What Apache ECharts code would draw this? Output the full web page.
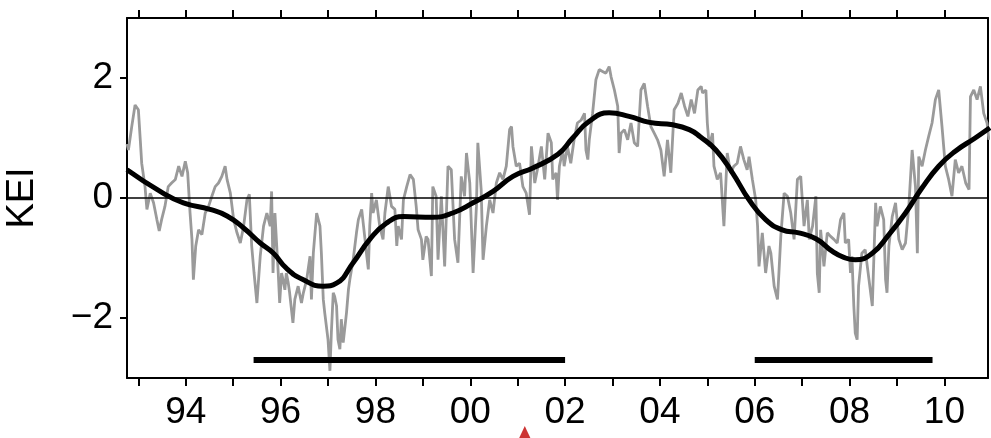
<!DOCTYPE html>
<html>
<head>
<meta charset="utf-8">
<title>KEI</title>
<script src="https://cdn.jsdelivr.net/npm/echarts@6/dist/echarts.min.js"></script>
<style>
    html, body { margin: 0; padding: 0; background: #fff; }
    #main { width: 991px; height: 438px; }
</style>
</head>
<body>
<div id="main"></div>
<script>
// KEI 原始序列 (灰线): 时间点
var keiYears = [
    1992.76, 1992.79, 1992.86, 1992.93, 1993.00, 1993.04, 1993.07, 1993.14, 1993.18, 1993.25,
    1993.32, 1993.39, 1993.44, 1993.49, 1993.56, 1993.63, 1993.70, 1993.78, 1993.85, 1993.92,
    1993.99, 1994.04, 1994.09, 1994.13, 1994.16, 1994.21, 1994.27, 1994.34, 1994.41, 1994.48,
    1994.55, 1994.62, 1994.69, 1994.76, 1994.83, 1994.87, 1994.94, 1995.01, 1995.08, 1995.15,
    1995.22, 1995.29, 1995.34, 1995.39, 1995.44, 1995.50, 1995.57, 1995.64, 1995.71, 1995.78,
    1995.81, 1995.84, 1995.88, 1995.91, 1995.95, 1995.98, 1996.02, 1996.05, 1996.09, 1996.12,
    1996.16, 1996.19, 1996.26, 1996.30, 1996.37, 1996.44, 1996.48, 1996.55, 1996.62, 1996.65,
    1996.69, 1996.76, 1996.83, 1996.86, 1996.90, 1996.93, 1997.00, 1997.04, 1997.07, 1997.11,
    1997.14, 1997.18, 1997.21, 1997.25, 1997.28, 1997.32, 1997.39, 1997.43, 1997.46, 1997.53,
    1997.60, 1997.64, 1997.71, 1997.78, 1997.81, 1997.85, 1997.88, 1997.92, 1997.95, 1998.02,
    1998.09, 1998.16, 1998.20, 1998.27, 1998.34, 1998.41, 1998.45, 1998.48, 1998.55, 1998.59,
    1998.66, 1998.73, 1998.80,
    1998.86, 1998.90, 1998.97, 1999.00, 1999.07, 1999.11, 1999.18, 1999.21, 1999.28, 1999.32,
    1999.39, 1999.46, 1999.53, 1999.60, 1999.67, 1999.74, 1999.81, 1999.88, 1999.92, 1999.99,
    2000.06, 2000.13, 2000.16, 2000.23, 2000.27, 2000.34, 2000.41, 2000.48, 2000.55, 2000.62,
    2000.69, 2000.76, 2000.83, 2000.87, 2000.90, 2000.97, 2001.04, 2001.11, 2001.18, 2001.25,
    2001.29, 2001.36, 2001.43, 2001.50, 2001.57, 2001.64, 2001.71, 2001.74, 2001.81,
    2001.84, 2001.88, 2001.95, 2001.98, 2002.05, 2002.12, 2002.19, 2002.26, 2002.34, 2002.41,
    2002.44, 2002.48, 2002.51, 2002.58, 2002.65, 2002.72, 2002.79, 2002.86, 2002.93, 2002.97,
    2003.04, 2003.11, 2003.14, 2003.18, 2003.25, 2003.32, 2003.39, 2003.46, 2003.53, 2003.60,
    2003.67, 2003.74, 2003.81, 2003.88, 2003.95, 2004.02, 2004.09, 2004.16, 2004.23, 2004.30,
    2004.38, 2004.45, 2004.52, 2004.59, 2004.66, 2004.73, 2004.80, 2004.87,
    2004.90, 2004.97, 2005.00, 2005.04, 2005.11, 2005.14, 2005.21, 2005.28, 2005.35, 2005.42,
    2005.49, 2005.56, 2005.63, 2005.70, 2005.77, 2005.84, 2005.88, 2005.95, 2006.02, 2006.06,
    2006.09, 2006.16, 2006.23, 2006.30, 2006.34, 2006.41, 2006.48, 2006.51, 2006.55, 2006.62,
    2006.69, 2006.76, 2006.83, 2006.90, 2006.97, 2007.04, 2007.11, 2007.15, 2007.22, 2007.29,
    2007.32, 2007.36, 2007.39, 2007.46, 2007.53, 2007.60, 2007.67, 2007.74, 2007.81, 2007.88,
    2007.91, 2007.98, 2008.02, 2008.05, 2008.09, 2008.12, 2008.16, 2008.19, 2008.26, 2008.33,
    2008.41, 2008.48, 2008.55, 2008.58, 2008.65, 2008.72, 2008.76, 2008.79, 2008.83, 2008.90,
    2008.97, 2009.04, 2009.11, 2009.18, 2009.25, 2009.32, 2009.39, 2009.43, 2009.46, 2009.53,
    2009.60, 2009.67, 2009.74, 2009.81, 2009.88, 2009.95, 2010.02, 2010.09, 2010.16, 2010.23,
    2010.30, 2010.37, 2010.45, 2010.52, 2010.55, 2010.62, 2010.69, 2010.76, 2010.83, 2010.90,
    2010.94
];
// KEI 原始序列 (灰线): 数值
var keiValues = [
    0.9, 0.80, 1.19, 1.55, 1.47, 0.97, 0.58, 0.19, -0.19, 0.08,
    -0.08, -0.36, -0.55, -0.36, -0.14, 0.19, 0.25, 0.31, 0.53, 0.36,
    0.61, 0.42, -0.25, -0.69, -1.36, -0.80, -0.53, -0.61, -0.25, -0.14,
    0.03, 0.19, 0.25, 0.36, 0.53, 0.31, 0.08, -0.36, -0.58, -0.75,
    -0.47, -0.03, 0.06, -0.80, -1.25, -1.75, -0.97, -0.47, -0.25, -0.47,
    0.11, -1.25, -0.25, -0.69, -1.25, -1.75, -1.25, -1.36, -1.53, -1.25,
    -1.41, -1.58, -2.08, -1.69, -1.47, -1.75, -1.58, -1.36, -0.97, -1.69,
    -0.92, -0.25, -0.47, -0.92, -1.69, -1.91, -2.36, -2.88, -2.25, -1.58,
    -1.64, -1.80, -2.36, -2.52, -2.02, -2.41, -1.91, -1.53, -1.36, -1.03,
    -0.58, -0.36, -0.19, -0.69, -0.92, -1.19, -0.47, 0.08, -0.25, -0.03,
    -0.47, -0.69, -0.25, 0.19, -0.14, -0.19, -0.80, -0.47, -0.69, -0.03,
    0.19, 0.39, 0.31,
    -0.14, -0.53, -0.69, -1.03, -0.64, -0.69, -1.30, 0.19, 0.03, -1.03,
    0.03, -1.14, 0.53, 0.47, -0.69, -1.08, 0.36, 0.03, 0.75, 0.25,
    -1.25, -0.14, 0.92, 0.14, -1.03, -0.47, -0.03, -0.25, 0.25, 0.42,
    0.31, 0.53, 1.14, 1.19, 0.86, 0.53, 0.58, 0.19, 0.08, -0.28,
    0.86, 0.25, 0.53, 0.86, 0.31, 1.08, 0.92, 0.31, 0.42,
    -0.03, 0.53, 0.80, 0.53, 0.86, 0.58, 0.97, 1.25, 1.30, 1.41,
    0.80, 0.64, 0.97, 1.41, 1.97, 2.14, 2.11, 2.08, 2.19, 2.02,
    1.80, 1.53, 0.75, 1.08, 1.14, 0.97, 1.25, 0.92, 0.86, 1.80,
    1.91, 1.53, 1.19, 1.08, 0.97, 0.80, 0.36, 0.97, 0.42, 1.47,
    1.58, 1.75, 1.53, 1.36, 1.64, 1.41, 1.80, 1.86,
    1.75, 1.80, 1.25, 0.86, 1.08, 0.53, 0.31, 0.42, -0.47, 0.75,
    0.42, 0.53, 0.58, 0.86, 0.64, 0.47, 0.69, 0.31, -0.03, -0.47,
    -1.14, -0.58, -1.25, -0.80, -0.92, -1.47, -1.69, -1.25, -0.64, 0.08,
    0.03, -0.25, -0.69, 0.31, 0.36, -0.47, -0.03, -0.69, -0.47, 0.03,
    -1.25, -1.58, -0.53, -1.14, -0.58, -0.64, -0.69, -0.75, -0.36, -0.25,
    -0.75, -0.69, -1.25, -0.97, -1.80, -2.25, -2.36, -1.47, -0.92, -0.86,
    -1.36, -1.80, -0.08, -0.47, -0.14, -0.36, -1.36, -1.58, -0.80, -0.31,
    -0.08, -0.69, -0.86, -0.75, -0.14, 0.80, 0.19, -0.92, 0.69, 0.53,
    0.80, 1.03, 1.25, 1.64, 1.80, 1.19, 0.53, 0.31, 0.03, 0.64,
    0.42, 0.53, 0.25, 0.14, 1.69, 1.80, 1.64, 1.86, 1.41, 1.25,
    0.97
];
// 平滑趋势线 (黑线)
var trendYears = [
    1992.76, 1993.46, 1993.95, 1994.51, 1994.87, 1995.22, 1995.57, 1995.85, 1996.12, 1996.47,
    1996.9, 1997.18, 1997.53, 1997.88, 1998.23, 1998.59, 1999.21, 1999.63, 2000.06, 2000.48,
    2000.9, 2001.32, 2001.85, 2002.16, 2002.51, 2002.93, 2003.35, 2003.78, 2004.27, 2004.62,
    2004.85, 2005.18, 2005.53, 2005.88, 2006.23, 2006.58, 2006.93, 2007.29, 2007.64, 2007.88,
    2008.12, 2008.48, 2008.83, 2009.18, 2009.53, 2009.88, 2010.23, 2010.65, 2010.96
];
var trendValues = [
    0.47, 0.11, -0.08, -0.19, -0.3, -0.5, -0.75, -0.92, -1.17, -1.36,
    -1.47, -1.42, -1.08, -0.69, -0.42, -0.31, -0.32, -0.25, -0.08, 0.11,
    0.36, 0.5, 0.73, 1.0, 1.28, 1.42, 1.36, 1.26, 1.22, 1.14,
    1.02, 0.8, 0.42, -0.03, -0.36, -0.53, -0.58, -0.68, -0.89, -0.99,
    -1.03, -0.92, -0.61, -0.25, 0.17, 0.53, 0.78, 1.0, 1.17
];
// 横条区间
var periodStart = [1995.43, 2006.0];
var periodEnd = [2002.0, 2009.75];
var periodLevel = -2.7;
// 红色三角标记
var markerYear = 2001.15;
var markerLevel = -3.915;
// 刻度
var tickYears = [1993, 1994, 1995, 1996, 1997, 1998, 1999, 2000, 2001, 2002,
    2003, 2004, 2005, 2006, 2007, 2008, 2009, 2010];
var labelYears = [1994, 1996, 1998, 2000, 2002, 2004, 2006, 2008, 2010];
var yTicks = [-2, 0, 2];

var keiData = keiYears.map(function (y, i) {
    return [y, keiValues[i]];
});
var trendData = trendYears.map(function (y, i) {
    return [y, trendValues[i]];
});
var periodData = [];
for (var i = 0; i < periodStart.length; i++) {
    if (i > 0) periodData.push([null, null]);
    periodData.push([periodStart[i], periodLevel]);
    periodData.push([periodEnd[i], periodLevel]);
}

var font = '"Liberation Sans", Arial, Helvetica, sans-serif';
var axisLine = { show: true, onZero: false, lineStyle: { color: '#000', width: 2 } };
var tickStyle = { color: '#000', width: 2 };

var myChart = echarts.init(document.getElementById('main'));
var option = {
    animation: false,
    backgroundColor: '#fff',
    grid: { left: 127, right: 3, top: 18, bottom: 60, outerBoundsMode: 'none', containLabel: false },
    xAxis: [
        {
            type: 'value',
            min: 1992.76,
            max: 2010.92,
            position: 'bottom',
            axisLine: axisLine,
            splitLine: { show: false },
            axisTick: { show: true, inside: false, length: 8, customValues: tickYears, lineStyle: tickStyle },
            axisLabel: {
                customValues: labelYears,
                margin: 16,
                fontSize: 37,
                fontFamily: font,
                color: '#000',
                formatter: function (v) {
                    var s = String(Math.round(v) % 100);
                    return s.length < 2 ? '0' + s : s;
                }
            }
        },
        {
            type: 'value',
            min: 1992.76,
            max: 2010.92,
            position: 'top',
            axisLine: axisLine,
            splitLine: { show: false },
            axisTick: { show: true, inside: false, length: 8, customValues: tickYears, lineStyle: tickStyle },
            axisLabel: { show: false }
        }
    ],
    yAxis: [
        {
            type: 'value',
            min: -3,
            max: 3,
            name: 'KEI',
            nameLocation: 'middle',
            nameGap: 85,
            nameRotate: 90,
            nameTextStyle: { fontSize: 38, fontFamily: font, color: '#000' },
            axisLine: axisLine,
            splitLine: { show: false },
            axisTick: { show: true, inside: false, length: 7, customValues: yTicks, lineStyle: tickStyle },
            axisLabel: {
                customValues: yTicks,
                margin: 14,
                fontSize: 37,
                fontFamily: font,
                color: '#000',
                formatter: function (v) {
                    return String(v).replace('-', '\u2212');
                }
            }
        },
        {
            type: 'value',
            min: -3,
            max: 3,
            position: 'right',
            axisLine: axisLine,
            splitLine: { show: false },
            axisTick: { show: false },
            axisLabel: { show: false }
        }
    ],
    series: [
        {
            name: 'KEI',
            type: 'line',
            data: keiData,
            showSymbol: false,
            lineStyle: { color: '#9a9a9a', width: 2.8 },
            z: 2,
            markLine: {
                silent: true,
                symbol: ['none', 'none'],
                label: { show: false },
                lineStyle: { color: '#000', width: 1.5, type: 'solid' },
                data: [{ yAxis: 0 }]
            }
        },
        {
            name: 'trend',
            type: 'line',
            data: trendData,
            smooth: 0.5,
            showSymbol: false,
            lineStyle: { color: '#000', width: 5 },
            z: 3
        },
        {
            name: 'period',
            type: 'line',
            data: periodData,
            connectNulls: false,
            showSymbol: false,
            lineStyle: { color: '#000', width: 6, cap: 'butt' },
            z: 3
        },
        {
            name: 'marker',
            type: 'scatter',
            data: [[markerYear, markerLevel]],
            symbol: 'triangle',
            symbolSize: [13, 14],
            clip: false,
            itemStyle: { color: '#c00000' },
            z: 5
        }
    ]
};
myChart.setOption(option);
window.addEventListener('resize', function () {
    myChart.resize();
});
</script>
</body>
</html>
